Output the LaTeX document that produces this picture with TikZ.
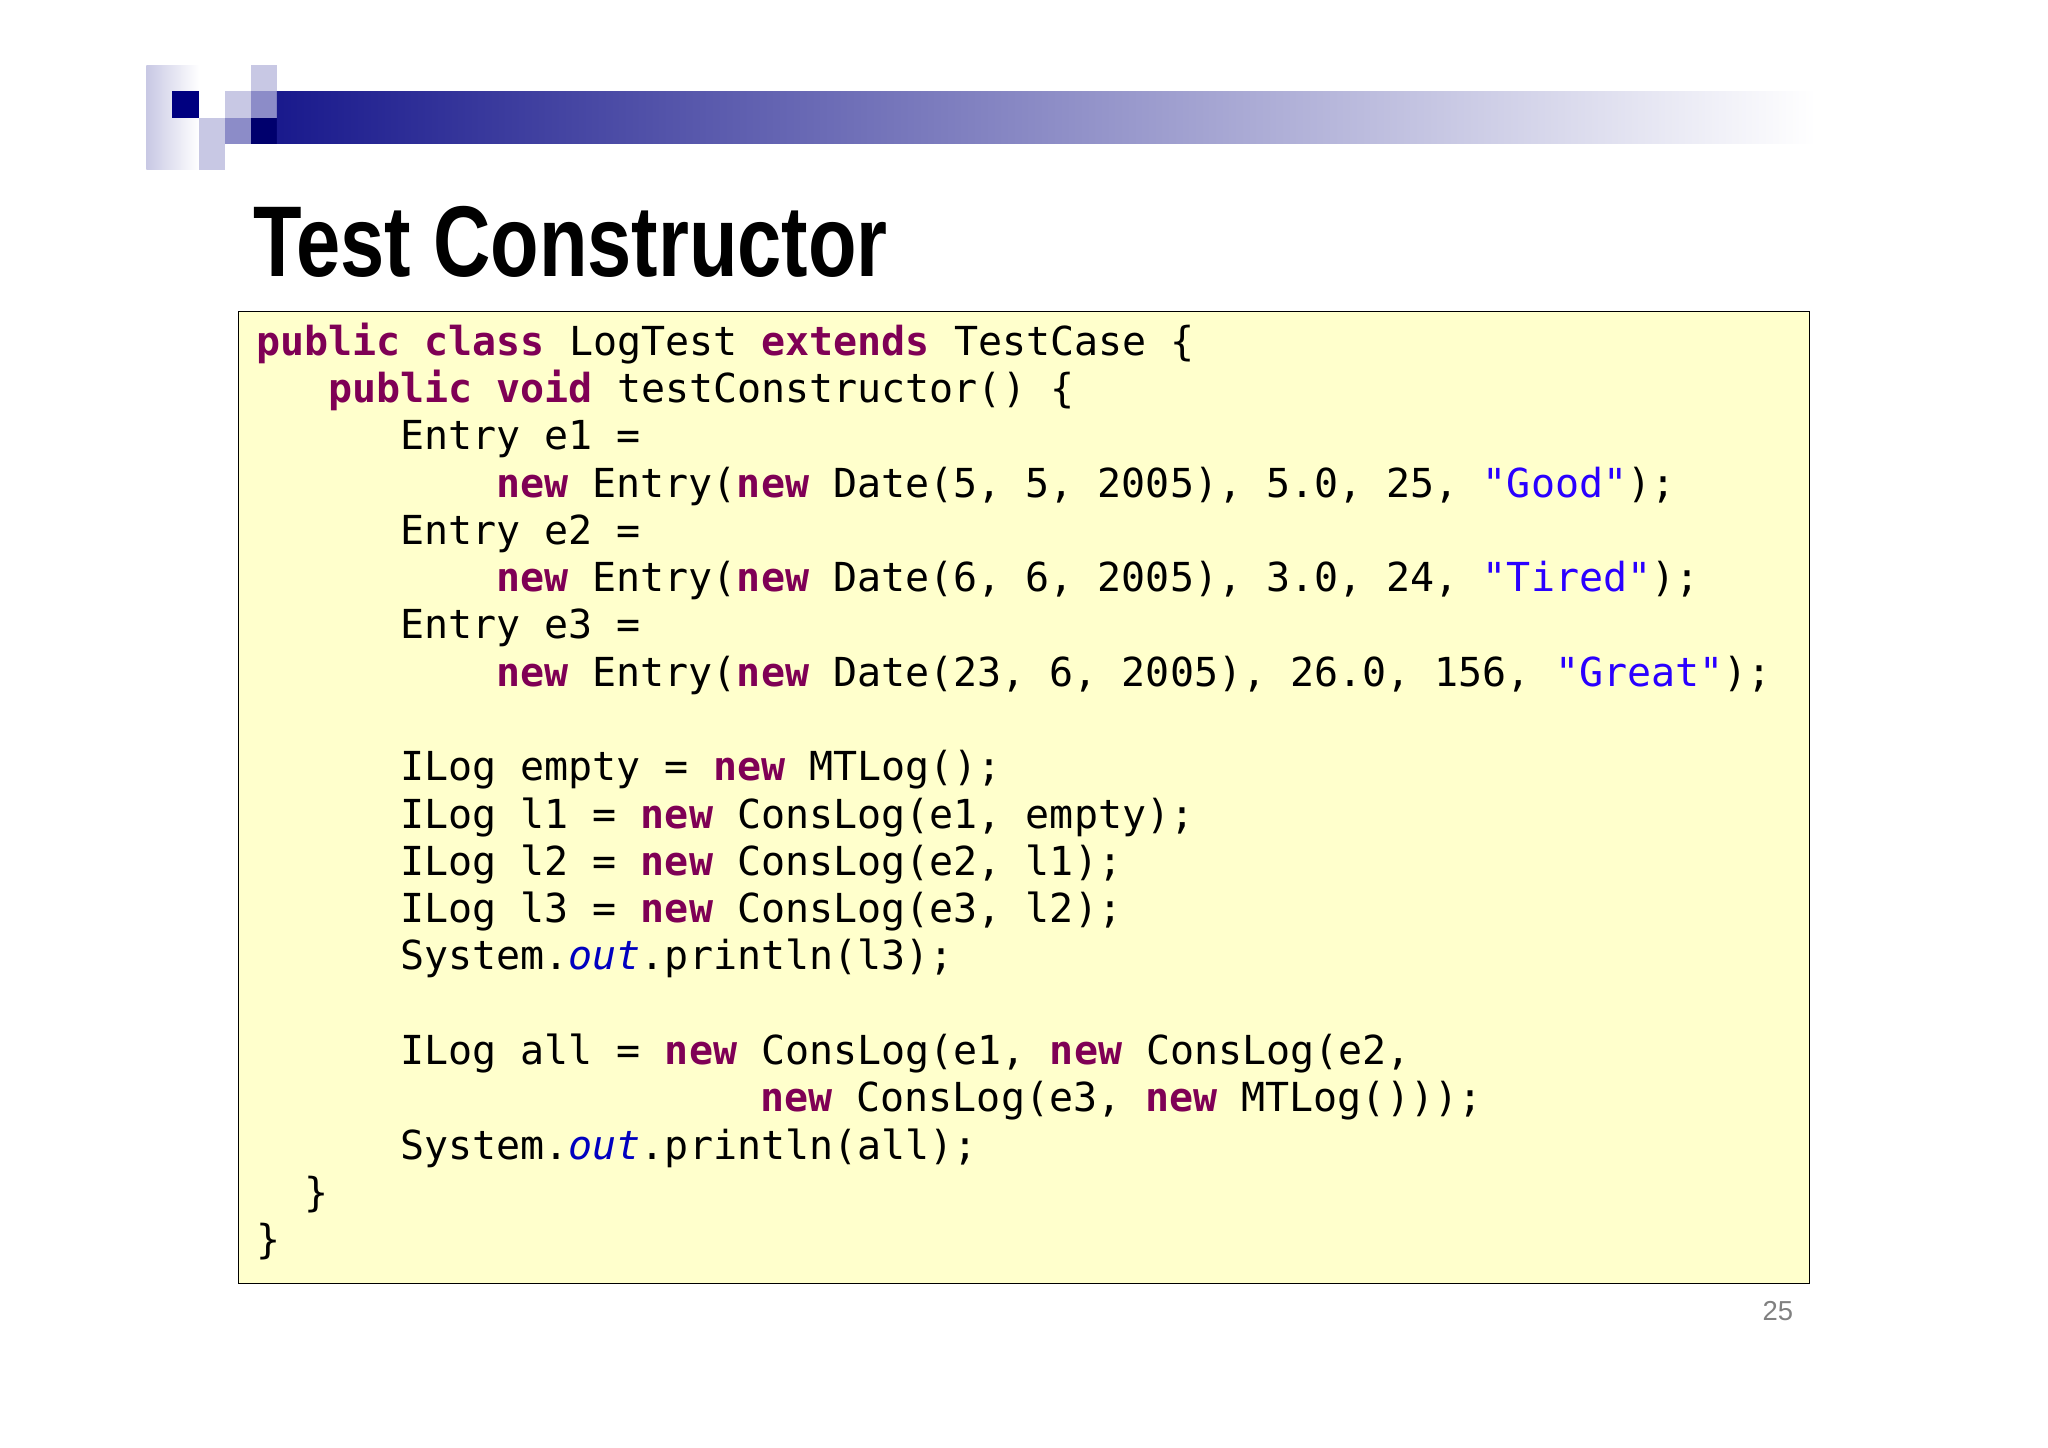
\documentclass[tikz,border=0pt]{standalone}
\usepackage{fontspec}
\setmainfont{Liberation Sans}
\newfontfamily\codefont{DejaVu Sans Mono}
\definecolor{kwc}{RGB}{127,0,85}
\definecolor{strc}{RGB}{42,0,255}
\definecolor{outc}{RGB}{0,0,192}
\definecolor{navy}{RGB}{0,0,128}
\definecolor{lav}{RGB}{200,200,228}
\definecolor{midlav}{RGB}{140,140,200}
\definecolor{boxy}{RGB}{255,255,204}
\newcommand{\kw}[1]{\textcolor{kwc}{\bfseries #1}}
\newcommand{\st}[1]{\textcolor{strc}{#1}}
\newcommand{\ot}{\textcolor{outc}{\itshape out}}
\begin{document}
\begin{tikzpicture}[x=1pt,y=-1pt,
  codeline/.style={anchor=base west,inner sep=0pt,font=\codefont\fontsize{30.6}{36}\selectfont}]
\useasboundingbox (0,0) rectangle (1568,1108);
% header
\shade[left color=lav,right color=white] (112,50) rectangle (152,130);
\fill[lav] (152,90) rectangle (172,110);
\fill[lav] (152,110) rectangle (172,130);
\fill[lav] (172,70) rectangle (192,90);
\fill[lav] (192,50) rectangle (212,70);
\fill[midlav] (172,90) rectangle (192,110);
\fill[midlav] (192,70) rectangle (212,90);
\fill[navy] (132,70) rectangle (152,90);
\fill[navy!85!black] (192,90) rectangle (212,110);
\shade[left color=navy!90,right color=white] (212,70) rectangle (1390,110);
\node[anchor=base west,inner sep=0pt,font=\bfseries\fontsize{77}{80}\selectfont] (title) at (194,212) {\scalebox{0.79}[1]{Test Constructor}};
\node[draw=black,line width=1pt,fill=boxy,minimum width=1203pt,minimum height=744pt,anchor=north west,inner sep=0pt] (box) at (182,238) {};
\def\cw{18.38}
\foreach \ind/\ln/\txt in {
 0/0/{\kw{public} \kw{class} LogTest \kw{extends} TestCase \{},
 3/1/{\kw{public} \kw{void} testConstructor() \{},
 6/2/{Entry e1 =},
 10/3/{\kw{new} Entry(\kw{new} Date(5, 5, 2005), 5.0, 25, \st{"Good"});},
 6/4/{Entry e2 =},
 10/5/{\kw{new} Entry(\kw{new} Date(6, 6, 2005), 3.0, 24, \st{"Tired"});},
 6/6/{Entry e3 =},
 10/7/{\kw{new} Entry(\kw{new} Date(23, 6, 2005), 26.0, 156, \st{"Great"});},
 6/9/{ILog empty = \kw{new} MTLog();},
 6/10/{ILog l1 = \kw{new} ConsLog(e1, empty);},
 6/11/{ILog l2 = \kw{new} ConsLog(e2, l1);},
 6/12/{ILog l3 = \kw{new} ConsLog(e3, l2);},
 6/13/{System.\ot.println(l3);},
 6/15/{ILog all = \kw{new} ConsLog(e1, \kw{new} ConsLog(e2,},
 21/16/{\kw{new} ConsLog(e3, \kw{new} MTLog()));},
 6/17/{System.\ot.println(all);},
 2/18/{\}},
 0/19/{\}}}
 \node[codeline] (l\ln) at ({196+\ind*\cw},{272+\ln*36.2}) {\txt};
\node[anchor=base east,inner sep=0pt,text=black!50,font=\fontsize{21}{24}\selectfont] (pg) at (1373,1011) {25};
\end{tikzpicture}
\end{document}
